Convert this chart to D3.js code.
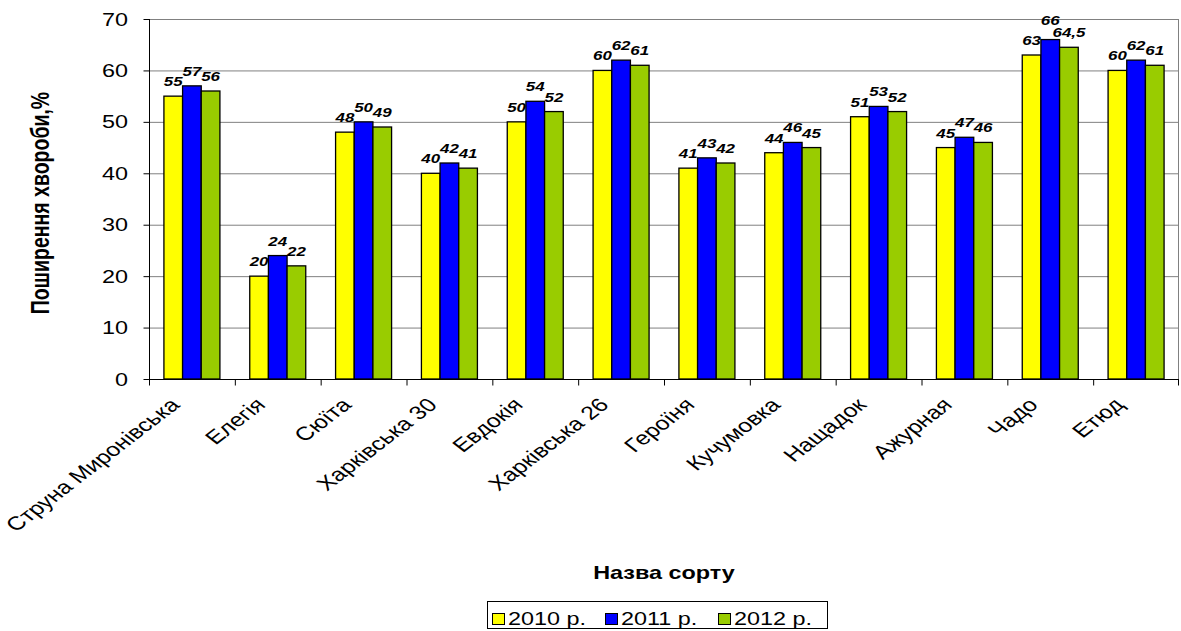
<!DOCTYPE html>
<html>
<head>
<meta charset="utf-8">
<script src="https://cdn.jsdelivr.net/npm/d3@7"></script>
<style>
  html, body { margin: 0; padding: 0; background: #fff; }
  svg { display: block; }
  text { font-family: "Liberation Sans", Arial, sans-serif; fill: #000; }
</style>
</head>
<body>
<svg id="chart" width="1181" height="631"></svg>
<script>
// Disease prevalence by variety, three seasons
const categories = ["Струна Миронівська", "Елегія", "Сюїта", "Харківська 30", "Евдокія",
  "Харківська 26", "Героїня", "Кучумовка", "Нащадок", "Ажурная", "Чадо", "Етюд"];
const seriesNames = ["2010 р.", "2011 р.", "2012 р."];
const values2010 = [55, 20, 48, 40, 50, 60, 41, 44, 51, 45, 63, 60];
const values2011 = [57, 24, 50, 42, 54, 62, 43, 46, 53, 47, 66, 62];
const values2012 = [56, 22, 49, 41, 52, 61, 42, 45, 52, 46, 64.5, 61];
const yTicks = [0, 10, 20, 30, 40, 50, 60, 70];
const seriesColors = ["#FFFF00", "#0000FF", "#99CC00"];

const seriesValues = [values2010, values2011, values2012];
const rows = categories.map((c, i) => ({
  cat: c,
  vals: seriesNames.map((s, k) => ({ key: s, k, v: seriesValues[k][i] }))
}));

const SX = 1.3; // horizontal glyph stretch
const svg = d3.select("#chart");
const plot = { left: 149, right: 1179, top: 19, bottom: 379 };

const x = d3.scaleBand().domain(categories).range([plot.left, plot.right]).paddingInner(0).paddingOuter(0);
const y = d3.scaleLinear().domain([0, 70]).range([plot.bottom, plot.top]);
const groupW = 56;
const xs = d3.scaleBand().domain(seriesNames)
  .range([(x.bandwidth() - groupW) / 2, (x.bandwidth() + groupW) / 2]).padding(0);

// grid lines and plot frame
svg.append("g").selectAll("line").data(yTicks.filter(t => t > 0)).join("line")
  .attr("x1", plot.left).attr("x2", plot.right)
  .attr("y1", d => y(d) + 0.5).attr("y2", d => y(d) + 0.5)
  .attr("stroke", "#808080").attr("stroke-width", 1);
svg.append("line")
  .attr("x1", plot.right - 0.5).attr("x2", plot.right - 0.5)
  .attr("y1", plot.top).attr("y2", plot.bottom)
  .attr("stroke", "#808080").attr("stroke-width", 1);

// bars
const groups = svg.append("g").selectAll("g").data(rows).join("g")
  .attr("transform", d => `translate(${x(d.cat)},0)`);
groups.selectAll("rect").data(d => d.vals).join("rect")
  .attr("x", d => xs(d.key))
  .attr("width", xs.bandwidth())
  .attr("y", d => y(d.v))
  .attr("height", d => y(0) - y(d.v))
  .attr("fill", d => seriesColors[d.k])
  .attr("stroke", "#000").attr("stroke-width", 1.3);

// value labels, lifted only when they clearly collide with a neighbour
const fmt = v => String(v).replace(".", ",");
const labels = groups.selectAll("text").data(d => d.vals).join("text")
  .attr("text-anchor", "middle")
  .style("font-size", "13px").style("font-weight", "bold").style("font-style", "italic")
  .text(d => fmt(d.v));
labels.each(function (d) {
  d.lx = xs(d.key) + xs.bandwidth() / 2;
  d.ly = y(d.v) - 10;
  d.hw = this.getComputedTextLength() * SX / 2;
});
groups.each(function (g) {
  const vs = g.vals;
  for (let i = 0; i < vs.length; i++) {
    for (let j = 0; j < vs.length; j++) {
      if (i === j || vs[i].v <= vs[j].v) continue;
      const a = vs[i], b = vs[j];
      const overlapX = a.hw + b.hw - Math.abs(a.lx - b.lx);
      const vOverlap = Math.abs(a.ly - b.ly) < 11;
      if (overlapX > 4 && vOverlap) a.ly = b.ly - 12;
    }
  }
});
labels.attr("transform", d => `translate(${d.lx},${d.ly}) scale(${SX},1)`);

// y axis
const yAxis = svg.append("g").attr("transform", `translate(${plot.left + 0.5},0)`)
  .call(d3.axisLeft(y).tickValues(yTicks).tickSize(6).tickFormat(""));
yAxis.select(".domain").attr("stroke", "#000").attr("d", `M0,${plot.top}V${plot.bottom}`);
yAxis.selectAll(".tick line").attr("stroke", "#000");
svg.append("g").selectAll("text").data(yTicks).join("text")
  .attr("transform", d => `translate(128,${y(d) + 6.5}) scale(${SX},1)`)
  .attr("text-anchor", "end")
  .style("font-size", "18px")
  .text(d => d);

// x axis with ticks at category boundaries
const xb = svg.append("g").attr("transform", `translate(0,${plot.bottom + 0.5})`);
xb.append("line").attr("x1", plot.left).attr("x2", plot.right).attr("stroke", "#000");
xb.selectAll("line.tk").data(categories.concat([null])).join("line").attr("class", "tk")
  .attr("x1", d => (d === null ? plot.right - 1 : x(d)) + 0.5)
  .attr("x2", d => (d === null ? plot.right - 1 : x(d)) + 0.5)
  .attr("y1", 0).attr("y2", 6).attr("stroke", "#000");
svg.append("g").selectAll("text").data(categories).join("text")
  .attr("transform", d => `translate(${x(d) + x.bandwidth() / 2 - 11},406) scale(${SX},1) rotate(-45)`)
  .attr("text-anchor", "end")
  .style("font-size", "19px")
  .text(d => d);

// axis titles
svg.append("text")
  .attr("transform", `translate(664,579) scale(${SX},1)`)
  .attr("text-anchor", "middle")
  .style("font-size", "18px").style("font-weight", "bold")
  .text("Назва сорту");
svg.append("text")
  .attr("transform", `translate(49,203) scale(${SX},1) rotate(-90)`)
  .attr("text-anchor", "middle")
  .style("font-size", "19.5px").style("font-weight", "bold")
  .text("Поширення хвороби,%");

// legend
const legend = svg.append("g");
const itemStep = 113, legStart = 492;
const items = legend.selectAll("g").data(seriesNames).join("g")
  .attr("transform", (d, i) => `translate(${legStart + i * itemStep},0)`);
items.append("rect").attr("x", 0.5).attr("y", 613.5).attr("width", 12).attr("height", 11)
  .attr("fill", (d, i) => seriesColors[i]).attr("stroke", "#000").attr("stroke-width", 1);
items.append("text")
  .attr("transform", `translate(16,625) scale(${SX},1)`)
  .style("font-size", "18px")
  .text(d => d);
legend.insert("rect", ":first-child")
  .attr("x", 487.5).attr("y", 601.5).attr("width", 340).attr("height", 27)
  .attr("fill", "#fff").attr("stroke", "#000").attr("stroke-width", 1);
</script>
</body>
</html>
